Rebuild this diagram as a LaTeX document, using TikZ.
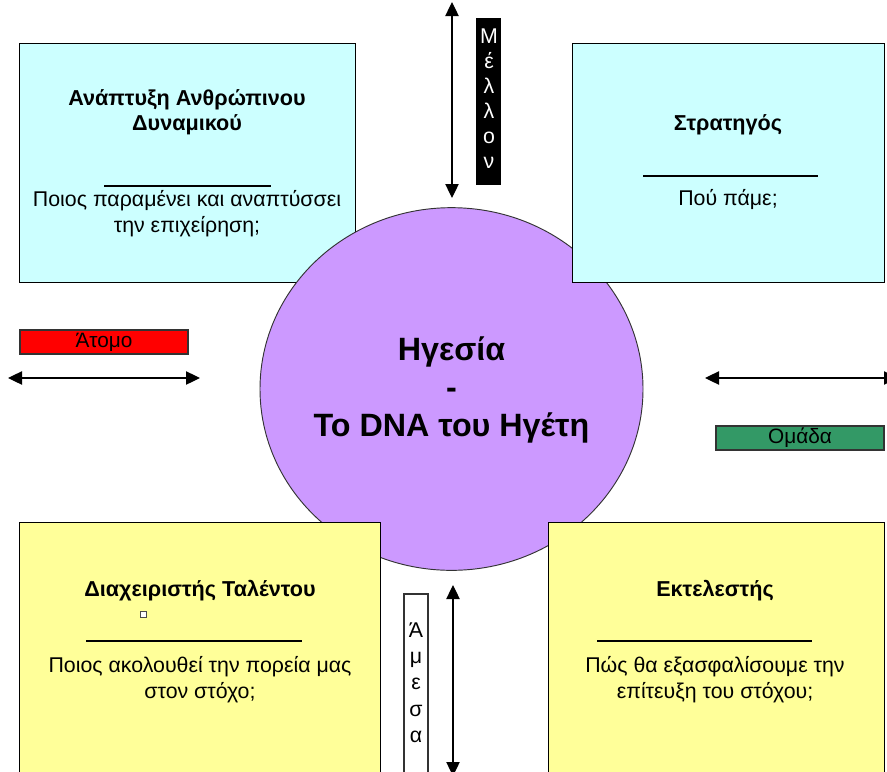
\documentclass[tikz,border=0pt]{standalone}
\usepackage{fontspec}
\setmainfont{Liberation Sans}
\usetikzlibrary{arrows.meta,shapes.geometric}
\definecolor{paleCyan}{HTML}{CCFFFF}
\definecolor{paleYellow}{HTML}{FFFF99}
\definecolor{lilac}{HTML}{CC99FF}
\definecolor{teamGreen}{HTML}{339966}

\begin{document}
\begin{tikzpicture}[x=0.75pt, y=-0.75pt,
    rolebox/.style={draw=black, line width=1.1pt, anchor=north west, inner sep=0pt},
    roletitle/.style={font=\fontsize{16.2}{18.75}\selectfont\bfseries, align=center},
    roletext/.style={font=\fontsize{16}{19.5}\selectfont, align=center},
    tag/.style={draw=black!80, line width=0.8pt, minimum width=126pt, minimum height=18pt, inner sep=0pt, font=\fontsize{15.6}{17}\selectfont},
    vtag/.style={font=\fontsize{16}{18.75}\selectfont, align=center, anchor=north},
    twoway/.style={line width=0.9pt, {Triangle[width=10pt,length=10.5pt]}-{Triangle[width=10pt,length=10.5pt]}}]
    \useasboundingbox (0,0) rectangle (887,771);

    % Top left box (behind the circle)
    \node[rolebox, fill=paleCyan, minimum width=252pt, minimum height=179.25pt] (devbox) at (19,43) {};
    \node[roletitle] (devtitle) at (187,112) {Ανάπτυξη Ανθρώπινου\\Δυναμικού};
    \draw[line width=0.8pt] (104,186) -- (271,186);
    \node[roletext] (devtext) at (187,214) {Ποιος παραμένει και αναπτύσσει\\την επιχείρηση;};

    % Central circle
    \node[ellipse, draw=black!80, line width=0.7pt, fill=lilac, minimum width=287.25pt, minimum height=272pt, inner sep=0pt] (core) at (451.5,389) {};
    \node[font=\fontsize{24.2}{28.5}\selectfont\bfseries, align=center] (coretext) at (451.5,390) {Ηγεσία\\-\\Το DNA του Ηγέτη};

    % Top right box
    \node[rolebox, fill=paleCyan, minimum width=234pt, minimum height=179.25pt] (stratbox) at (572,43) {};
    \node[roletitle] (strattitle) at (728,125) {Στρατηγός};
    \draw[line width=0.8pt] (643,176) -- (818,176);
    \node[roletext] (strattext) at (728,200) {Πού πάμε;};

    % Bottom left box
    \node[rolebox, fill=paleYellow, minimum width=270.75pt, minimum height=195pt] (talbox) at (19,522) {};
    \node[roletitle] (taltitle) at (200,591) {Διαχειριστής Ταλέντου};
    \node[draw=black!70, fill=white, line width=0.5pt, minimum size=4.5pt, inner sep=0pt] (talmark) at (143,614) {};
    \draw[line width=0.8pt] (86,641) -- (302,641);
    \node[roletext] (taltext) at (200,680) {Ποιος ακολουθεί την πορεία μας\\στον στόχο;};

    % Bottom right box
    \node[rolebox, fill=paleYellow, minimum width=252pt, minimum height=195pt] (execbox) at (548,522) {};
    \node[roletitle] (exectitle) at (715,591) {Εκτελεστής};
    \draw[line width=0.8pt] (597,641) -- (812,641);
    \node[roletext] (exectext) at (715,680) {Πώς θα εξασφαλίσουμε την\\επίτευξη του στόχου;};

    % Time axis
    \coordinate (futA) at (452,2);
    \coordinate (futB) at (452,198);
    \draw[twoway] (futA) -- (futB);
    \node[fill=black, minimum width=18.75pt, minimum height=125.25pt, inner sep=0pt] (futbox) at (488.5,101.5) {};
    \node[vtag, text=white] (futtext) at (489,24) {Μ\\έ\\λ\\λ\\ο\\ν};
    \coordinate (nowA) at (453,585);
    \coordinate (nowB) at (453,776);
    \draw[twoway] (nowA) -- (nowB);
    \node[draw=black!80, fill=white, line width=0.8pt, minimum width=18pt, minimum height=141pt, inner sep=0pt] (nowbox) at (416,688) {};
    \node[vtag, font=\fontsize{16}{19.7}\selectfont] (nowtext) at (416,618) {Ά\\μ\\ε\\σ\\α};

    % Person - team axis
    \node[tag, fill=red] (person) at (104,342) {Άτομο};
    \coordinate (leftA) at (8,378);
    \coordinate (leftB) at (200,378);
    \draw[twoway] (leftA) -- (leftB);
    \node[tag, fill=teamGreen] (team) at (800,438) {Ομάδα};
    \coordinate (rightA) at (705,378);
    \coordinate (rightB) at (898,378);
    \draw[twoway] (rightA) -- (rightB);
\end{tikzpicture}
\end{document}
